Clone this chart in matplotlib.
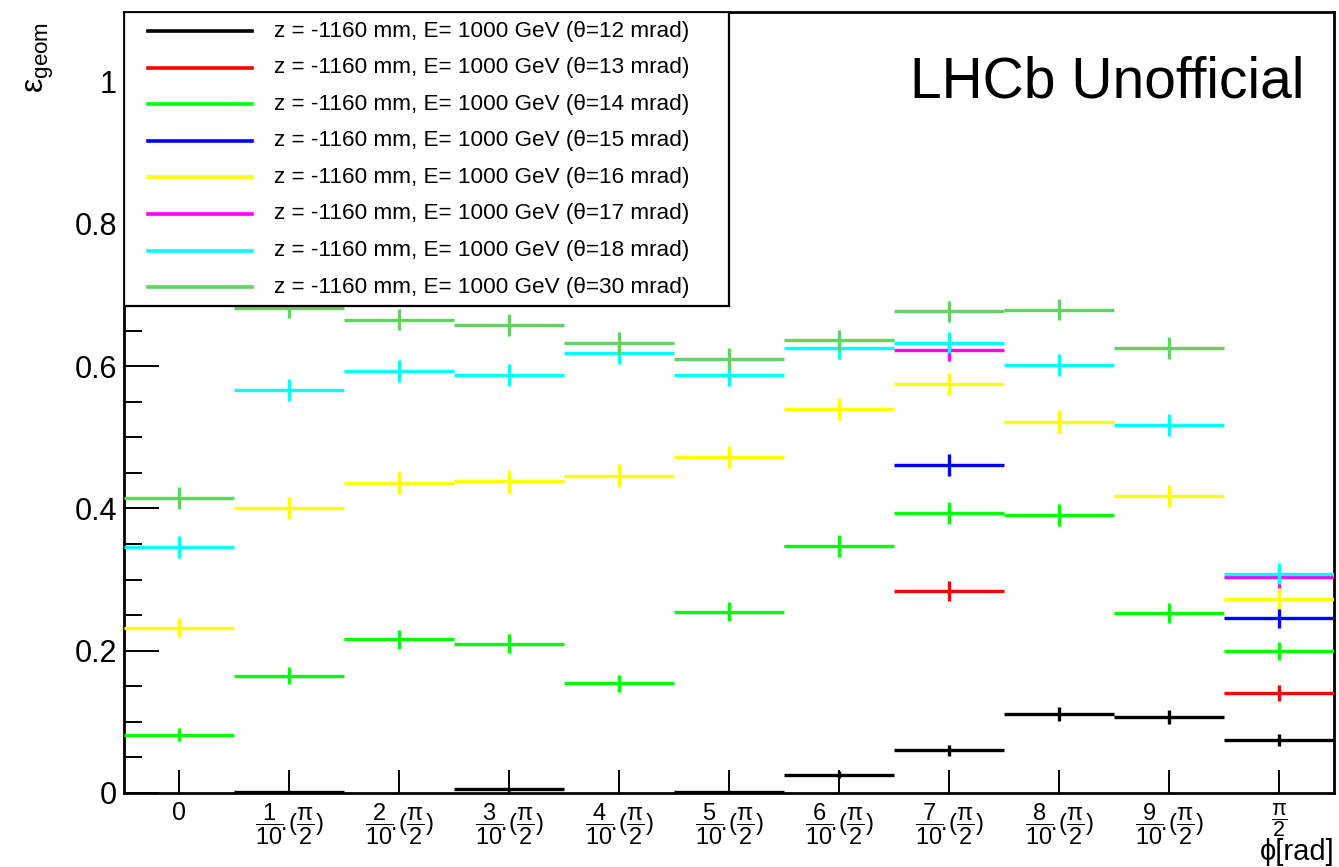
import numpy as np
import matplotlib
matplotlib.use("Agg")
import matplotlib.pyplot as plt
from matplotlib.patches import Rectangle
from matplotlib.lines import Line2D

plt.rcParams['font.family'] = ['Liberation Sans', 'DejaVu Sans']
plt.rcParams['mathtext.fontset'] = 'custom'
plt.rcParams['mathtext.rm'] = 'Liberation Sans'
plt.rcParams['mathtext.it'] = 'Liberation Sans'
plt.rcParams['mathtext.sf'] = 'Liberation Sans'

# --- efficiency per phi bin, one array per theta ---
phi_bins = np.arange(11)
n_events = 1000

eff_12 = [0.0, 0.002, 0.0, 0.005, 0.0, 0.001, 0.026, 0.060, 0.111, 0.107, 0.075]
eff_13 = [0.0, 0.0, 0.0, 0.0, 0.0, 0.0, 0.0, 0.284, 0.0, 0.0, 0.141]
eff_14 = [0.082, 0.165, 0.216, 0.210, 0.154, 0.255, 0.347, 0.394, 0.391, 0.253, 0.199]
eff_15 = [0.0, 0.0, 0.0, 0.0, 0.0, 0.0, 0.0, 0.461, 0.0, 0.0, 0.246]
eff_16 = [0.232, 0.400, 0.436, 0.438, 0.446, 0.472, 0.540, 0.575, 0.522, 0.417, 0.273]
eff_17 = [0.0, 0.0, 0.0, 0.0, 0.0, 0.0, 0.0, 0.622, 0.0, 0.0, 0.303]
eff_18 = [0.346, 0.566, 0.593, 0.588, 0.618, 0.588, 0.625, 0.633, 0.602, 0.517, 0.308]
eff_30 = [0.415, 0.682, 0.665, 0.658, 0.632, 0.610, 0.636, 0.677, 0.679, 0.625, 0.0]

series = [eff_12, eff_13, eff_14, eff_15, eff_16, eff_17, eff_18, eff_30]
thetas = [12, 13, 14, 15, 16, 17, 18, 30]
colors = ['#000000', '#ff0000', '#00ff00', '#0000ff', '#ffff00', '#ff00ff', '#00ffff', '#5fd45f']
labels = [f"z = -1160 mm, E= 1000 GeV (θ={t} mrad)" for t in thetas]

tick_labels = ['0'] + [r'$\dfrac{%d}{10}\!.\!(\dfrac{\pi}{2})$' % k for k in range(1, 10)] + [r'$\dfrac{\pi}{2}$']

W, H = 1339, 867
fig = plt.figure(figsize=(W / 100, H / 100), dpi=100)
ax = fig.add_axes([124 / W, 1 - 793 / H, 1210 / W, 781 / H])

for vals, col in zip(series, colors):
    vals = np.array(vals, dtype=float)
    keep = vals > 0
    err = np.sqrt(vals * (1 - vals) / n_events)
    ax.errorbar(phi_bins[keep], vals[keep], xerr=0.5, yerr=err[keep], fmt='none',
                ecolor=col, elinewidth=2.4, capsize=0, zorder=3)

ax.set_xlim(-0.5, 10.5)
ax.set_ylim(0, 1.0977)
ax.set_xticks(phi_bins)
ax.set_xticklabels(tick_labels, fontsize=17)
ax.set_yticks([0, 0.2, 0.4, 0.6, 0.8, 1.0])
ax.set_yticklabels(['0', '0.2', '0.4', '0.6', '0.8', '1'], fontsize=22)
ax.set_yticks(np.arange(0.05, 1.09, 0.05), minor=True)
ax.tick_params(axis='y', which='major', direction='in', length=25, width=1.4, pad=5)
ax.tick_params(axis='y', which='minor', direction='in', length=13, width=1.4)
ax.tick_params(axis='x', which='major', direction='in', length=16.5, width=1.4, pad=6)
ax.tick_params(axis='x', which='minor', bottom=False)
xt = ax.xaxis.get_major_ticks()
xt[0].label1.set_fontsize(18)
xt[-1].label1.set_fontsize(15.5)
for s in ax.spines.values():
    s.set_linewidth(2.0)

# legend box drawn by hand in axes fractions
def fx(px):
    return (px - 124) / 1210

def fy(py):
    return (793 - py) / 781

ax.add_patch(Rectangle((fx(124), fy(306)), fx(729) - fx(124), fy(12) - fy(306),
                       transform=ax.transAxes, facecolor='white', edgecolor='black',
                       linewidth=1.6, zorder=5))
for k, (lab, col) in enumerate(zip(labels, colors)):
    yrow = 31 + k * 36.6
    ax.add_line(Line2D([fx(148), fx(252)], [fy(yrow), fy(yrow)], transform=ax.transAxes,
                       color=col, linewidth=2.6, zorder=6))
    ax.text(fx(274), fy(yrow), lab, transform=ax.transAxes, fontsize=16.2,
            va='center', ha='left', zorder=6)

fig.text(1305 / W, 1 - 98 / H, "LHCb Unofficial", fontsize=41, ha='right', va='baseline')
fig.text(1335 / W, 1 - 866 / H, "ϕ[rad]", fontsize=21, ha='right', va='bottom')
fig.text(40 / W, 1 - 22 / H, r"ε$_{\mathrm{geom}}$", fontsize=23, rotation=90,
         ha='center', va='top')

fig.savefig("out.png", dpi=100)
